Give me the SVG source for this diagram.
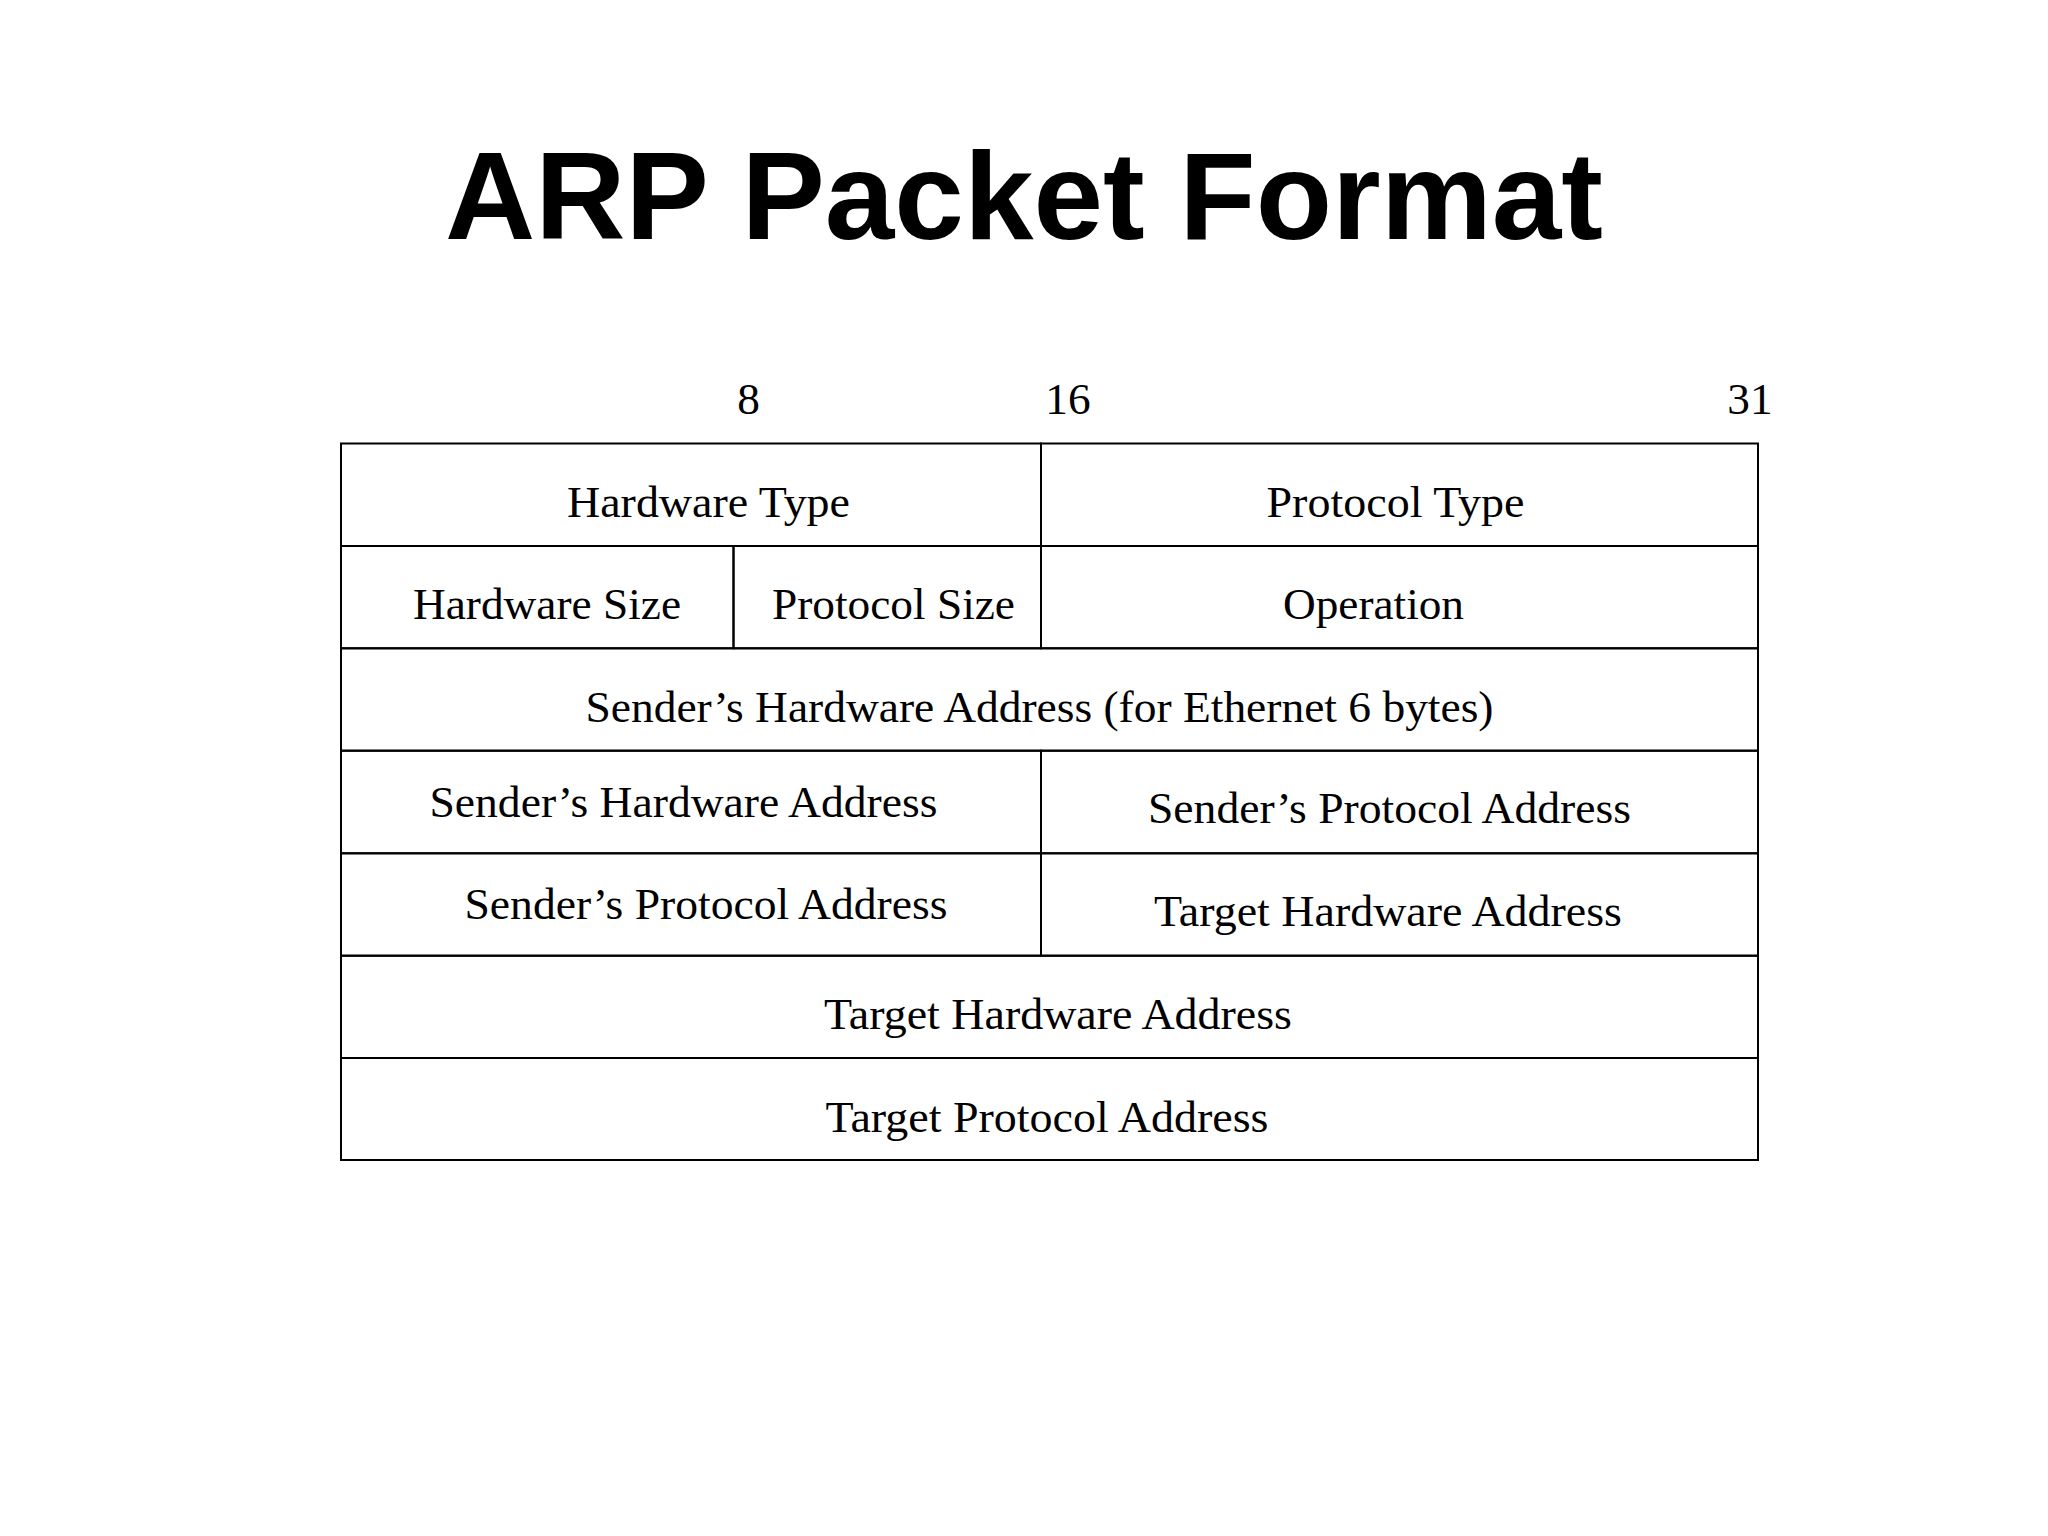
<svg xmlns="http://www.w3.org/2000/svg" width="2048" height="1536" viewBox="0 0 2048 1536">
<style>
.cell{fill:none;stroke:#000;stroke-width:2}
.lbl{font-family:"Liberation Serif","Times New Roman",serif;font-size:45.3px;fill:#000}
.title{font-family:"Liberation Sans",Arial,sans-serif;font-size:125px;font-weight:bold;fill:#000;text-anchor:middle}
</style>
<rect x="0" y="0" width="2048" height="1536" fill="#fff"/>
<text id="title" class="title" x="1024" y="239">ARP Packet Format</text>
<g id="bit-labels" class="lbl" text-anchor="middle">
<text x="748.5" y="414">8</text>
<text x="1068" y="414">16</text>
<text x="1750" y="414">31</text>
</g>
<g id="hardware-type"><rect class="cell" x="341" y="443.5" width="700" height="102.5"/><text class="lbl" x="567" y="517.3" textLength="283" lengthAdjust="spacingAndGlyphs">Hardware Type</text></g>
<g id="protocol-type"><rect class="cell" x="1041" y="443.5" width="717" height="102.5"/><text class="lbl" x="1266.5" y="517.3" textLength="258" lengthAdjust="spacingAndGlyphs">Protocol Type</text></g>
<g id="hardware-size"><rect class="cell" x="341" y="546" width="392.5" height="102.3"/><text class="lbl" x="413" y="619" textLength="268" lengthAdjust="spacingAndGlyphs">Hardware Size</text></g>
<g id="protocol-size"><rect class="cell" x="733.5" y="546" width="307.5" height="102.3"/><text class="lbl" x="772" y="619" textLength="243" lengthAdjust="spacingAndGlyphs">Protocol Size</text></g>
<g id="operation"><rect class="cell" x="1041" y="546" width="717" height="102.3"/><text class="lbl" x="1283" y="619" textLength="181" lengthAdjust="spacingAndGlyphs">Operation</text></g>
<g id="sender-hw-full"><rect class="cell" x="341" y="648.3" width="1417" height="102.4"/><text class="lbl" x="585.5" y="721.7" textLength="908" lengthAdjust="spacingAndGlyphs">Sender’s Hardware Address (for Ethernet 6 bytes)</text></g>
<g id="sender-hw-part"><rect class="cell" x="341" y="750.7" width="700" height="102.6"/><text class="lbl" x="429.5" y="816.7" textLength="508" lengthAdjust="spacingAndGlyphs">Sender’s Hardware Address</text></g>
<g id="sender-proto-part1"><rect class="cell" x="1041" y="750.7" width="717" height="102.6"/><text class="lbl" x="1148" y="823.3" textLength="483" lengthAdjust="spacingAndGlyphs">Sender’s Protocol Address</text></g>
<g id="sender-proto-part2"><rect class="cell" x="341" y="853.3" width="700" height="102.4"/><text class="lbl" x="464.5" y="919" textLength="483" lengthAdjust="spacingAndGlyphs">Sender’s Protocol Address</text></g>
<g id="target-hw-part1"><rect class="cell" x="1041" y="853.3" width="717" height="102.4"/><text class="lbl" x="1154" y="925.7" textLength="468" lengthAdjust="spacingAndGlyphs">Target Hardware Address</text></g>
<g id="target-hw-full"><rect class="cell" x="341" y="955.7" width="1417" height="102.3"/><text class="lbl" x="824" y="1029" textLength="468" lengthAdjust="spacingAndGlyphs">Target Hardware Address</text></g>
<g id="target-proto"><rect class="cell" x="341" y="1058" width="1417" height="102"/><text class="lbl" x="825.5" y="1131.7" textLength="443" lengthAdjust="spacingAndGlyphs">Target Protocol Address</text></g>
</svg>
